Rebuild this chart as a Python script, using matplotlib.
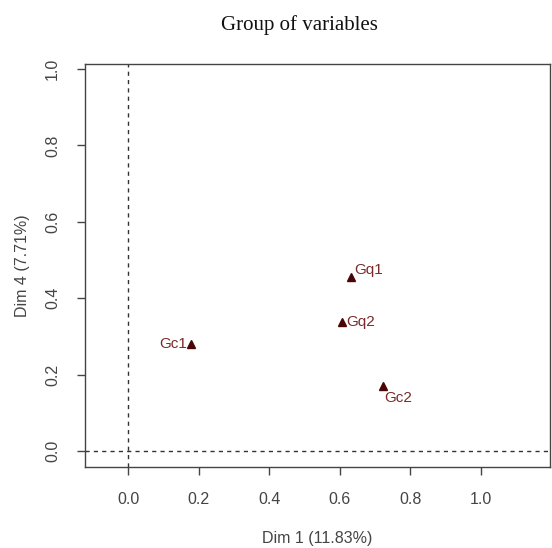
import numpy as np
import matplotlib
matplotlib.use("Agg")
import matplotlib.pyplot as plt

# group coordinates on Dim 1 / Dim 4
groups = ["Gq1", "Gq2", "Gc1", "Gc2"]
dim1 = [0.633, 0.608, 0.178, 0.723]
dim4 = [0.456, 0.337, 0.280, 0.170]

xticks = [0.0, 0.2, 0.4, 0.6, 0.8, 1.0]
yticks = [0.0, 0.2, 0.4, 0.6, 0.8, 1.0]

# label offsets in points (R pos-style placement)
offsets = {"Gq1": (2, 5), "Gq2": (3, 0), "Gc1": (-3, 0), "Gc2": (1, -9)}
aligns = {"Gq1": "left", "Gq2": "left", "Gc1": "right", "Gc2": "left"}

plt.rcParams['font.family'] = ['Liberation Sans', 'DejaVu Sans']

fig = plt.figure(figsize=(5.52, 5.48), dpi=100)
ax = fig.add_axes([0.154, 0.148, 0.842, 0.735])

ax.axvline(0, color="#333333", lw=1, ls=(0, (3, 3)), zorder=1)
ax.axhline(0, color="#333333", lw=1, ls=(0, (3, 3)), zorder=1)

ax.plot(dim1, dim4, ls="none", marker="^", ms=5.5, color="#4a0505", zorder=3)
for g, x, y in zip(groups, dim1, dim4):
    ax.annotate(g, (x, y), xytext=offsets[g], textcoords="offset points",
                ha=aligns[g], va="center", fontsize=11, color="#7a2a2a")

ax.set_xlim(-0.122, 1.196)
ax.set_ylim(-0.042, 1.013)
ax.set_xticks(xticks)
ax.set_yticks(yticks)
ax.set_xticklabels([f"{t:.1f}" for t in xticks])
ax.set_yticklabels([f"{t:.1f}" for t in yticks], rotation=90, va="center")
ax.tick_params(direction="out", length=6, width=1, color="#444444",
               labelsize=11.5, labelcolor="#444444", pad=12)
for s in ax.spines.values():
    s.set_color("#444444")
    s.set_linewidth(1)

ax.set_xlabel("Dim 1 (11.83%)", fontsize=11.5, color="#444444", labelpad=17.5)
ax.set_ylabel("Dim 4 (7.71%)", fontsize=11.5, color="#444444", labelpad=10.5)

fig.text(299 / 552, 1 - 25 / 548, "Group of variables", ha="center", va="center",
         fontsize=15, family="Liberation Serif", color="#111111")

fig.savefig("out.png", dpi=100)
